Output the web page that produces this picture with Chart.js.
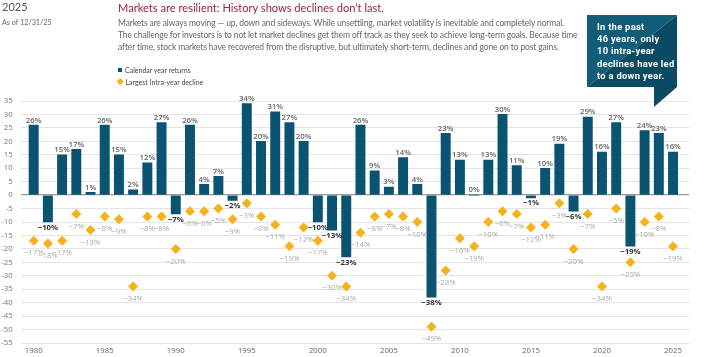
<!DOCTYPE html>
<html>
<head>
<meta charset="utf-8">
<script src="https://cdn.jsdelivr.net/npm/chart.js@4/dist/chart.umd.min.js"></script>
<style>
  html, body { margin: 0; padding: 0; background: #fff; }
  #wrap { position: relative; width: 711px; height: 357px; overflow: hidden; font-family: Lato, "Open Sans", sans-serif; }
  #c { position: absolute; left: 0; top: 0; }
  .abs { position: absolute; white-space: nowrap; }
  #year { left: 2px; top: 0px; font-size: 11px; color: #555; }
  #asof { left: 2px; top: 18px; font-size: 7.2px; color: #666; }
  #title { left: 118px; top: 1px; font-size: 11.1px; color: #a3213f; }
  #body { left: 118px; top: 17px; font-size: 8.5px; letter-spacing: -0.13px; color: #666; line-height: 12px; }
  .leg { left: 118px; font-size: 7px; color: #444; }
  #callout { position: absolute; left: 587px; top: 15px; }
  #ctext { position: absolute; left: 597px; top: 21px; font-family: Roboto, sans-serif; font-weight: bold; font-size: 9.4px; color: #fff; line-height: 12.2px; letter-spacing: 0.28px; white-space: nowrap; }
</style>
</head>
<body>
<div id="wrap">
  <canvas id="c" width="711" height="357"></canvas>
  <div class="abs" id="year">2025</div>
  <div class="abs" id="asof">As of 12/31/25</div>
  <div class="abs" id="title">Markets are resilient: History shows declines don’t last.</div>
  <div class="abs" id="body">Markets are always moving — up, down and sideways. While unsettling, market volatility is inevitable and completely normal.<br>The challenge for investors is to not let market declines get them off track as they seek to achieve long-term goals. Because time<br>after time, stock markets have recovered from the disruptive, but ultimately short-term, declines and gone on to post gains.</div>
  <div class="abs leg" style="top:66px;"><span style="display:inline-block;width:4px;height:4px;background:#0b5471;margin-right:3px;vertical-align:middle;position:relative;top:-1px;"></span>Calendar year returns</div>
  <div class="abs leg" style="top:77.5px;"><span style="display:inline-block;width:4.5px;height:4.5px;background:#f6b21b;transform:rotate(45deg);margin-right:3px;vertical-align:middle;position:relative;top:-1px;"></span>Largest Intra-year decline</div>
  <svg id="callout" width="91" height="93" viewBox="0 0 91 93">
    <polygon points="0,0 90,0 0,72" fill="#115d79"/>
    <polygon points="90,0 90,72 0,72" fill="#0b4a63"/>
    <polygon points="67,72 90,72 67,92" fill="#0b4a63"/>
  </svg>
  <div id="ctext">In the past<br>46 years, only<br>10 intra-year<br>declines have led<br>to a down year.</div>
</div>
<script>
const years = [1980,1981,1982,1983,1984,1985,1986,1987,1988,1989,1990,1991,1992,1993,1994,1995,1996,1997,1998,1999,2000,2001,2002,2003,2004,2005,2006,2007,2008,2009,2010,2011,2012,2013,2014,2015,2016,2017,2018,2019,2020,2021,2022,2023,2024,2025];
const calendarReturns = [26,-10,15,17,1,26,15,2,12,27,-7,26,4,7,-2,34,20,31,27,20,-10,-13,-23,26,9,3,14,4,-38,23,13,0,13,30,11,-1,10,19,-6,29,16,27,-19,24,23,16];
const intraYearDeclines = [-17,-18,-17,-7,-13,-8,-9,-34,-8,-8,-20,-6,-6,-5,-9,-3,-8,-11,-19,-12,-17,-30,-34,-14,-8,-7,-8,-10,-49,-28,-16,-19,-10,-6,-7,-12,-11,-3,-20,-7,-34,-5,-25,-10,-8,-19];
const yTicks = {min: -55, max: 35, step: 5};
const xTickStep = 5;

const fmt = v => (v < 0 ? '\u2212' + Math.abs(v) : String(v)) + '%';

const labelPlugin = {
  id: 'valueLabels',
  afterDatasetsDraw(chart) {
    const ctx = chart.ctx;
    ctx.save();
    ctx.textAlign = 'center';
    const bars = chart.getDatasetMeta(0).data;
    bars.forEach((el, i) => {
      const v = calendarReturns[i];
      if (v >= 0) {
        ctx.font = '600 7.8px "Open Sans"';
        ctx.fillStyle = '#666';
        ctx.textBaseline = 'bottom';
        ctx.fillText(fmt(v), el.x, el.y - 1);
      } else {
        ctx.font = 'bold 7.8px "Open Sans"';
        ctx.fillStyle = '#333';
        ctx.textBaseline = 'top';
        ctx.fillText(fmt(v), el.x, el.y + 1.5);
      }
    });
    const pts = chart.getDatasetMeta(1).data;
    pts.forEach((el, i) => {
      ctx.font = '7.8px "Open Sans"';
      ctx.fillStyle = '#aaa';
      ctx.textBaseline = 'top';
      ctx.fillText(fmt(intraYearDeclines[i]), el.x, el.y + 8.5);
    });
    ctx.restore();
  }
};

new Chart(document.getElementById('c'), {
  type: 'bar',
  data: {
    datasets: [
      {
        label: 'Calendar year returns',
        data: years.map((y, i) => ({x: y, y: calendarReturns[i]})),
        backgroundColor: '#0b5471',
        barThickness: 9.3,
        order: 2
      },
      {
        type: 'line',
        label: 'Largest Intra-year decline',
        data: years.map((y, i) => ({x: y, y: intraYearDeclines[i]})),
        showLine: false,
        pointStyle: 'rectRot',
        pointRadius: 5,
        backgroundColor: '#f6b21b',
        borderWidth: 0,
        order: 1
      }
    ]
  },
  options: {
    responsive: false,
    animation: false,
    plugins: { legend: { display: false }, tooltip: { enabled: false } },
    layout: { padding: { top: 101, right: 22, bottom: 0, left: 0 } },
    scales: {
      x: {
        type: 'linear',
        offset: false,
        min: 1979.086,
        max: 2026.125,
        grid: { display: false, drawTicks: false },
        border: { display: false },
        ticks: {
          stepSize: xTickStep,
          includeBounds: false,
          autoSkip: false,
          maxRotation: 0,
          padding: 3,
          color: '#666',
          font: { family: '"Open Sans"', size: 7.8 },
          callback: v => String(v)
        },
        afterFit: s => { s.height = 14; }
      },
      y: {
        min: yTicks.min,
        max: yTicks.max,
        grid: {
          drawTicks: false,
          color: c => c.tick.value === 0 ? '#9a9a9a' : '#e4e4e4',
          lineWidth: c => c.tick.value === 0 ? 1.3 : 1
        },
        border: { display: false },
        ticks: {
          stepSize: yTicks.step,
          padding: 8,
          color: '#777',
          font: { family: '"Open Sans"', size: 7.8 },
          callback: v => String(v)
        },
        afterFit: s => { s.width = 20.7; }
      }
    }
  },
  plugins: [labelPlugin]
});
</script>
</body>
</html>
